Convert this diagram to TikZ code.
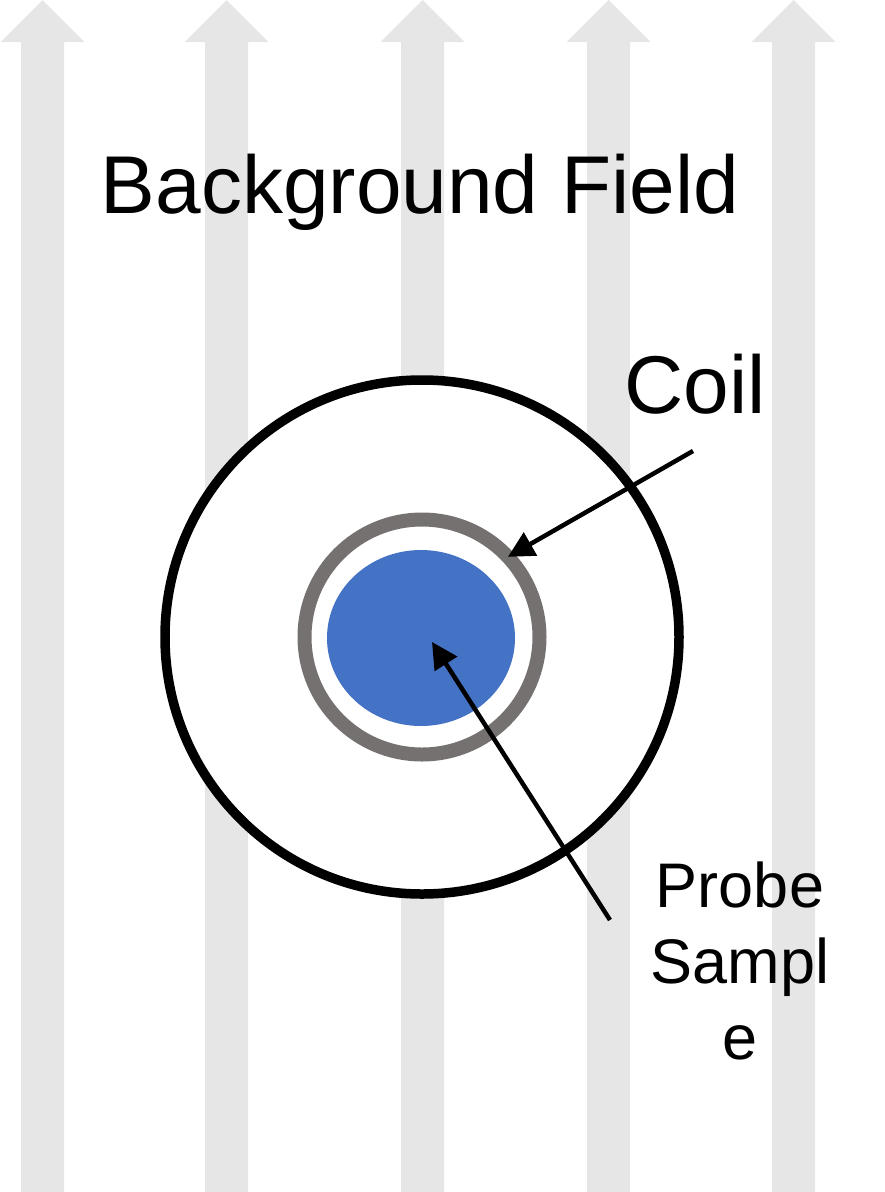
\documentclass[tikz,border=0pt]{standalone}
\usepackage{fontspec}
\setmainfont{Liberation Sans}
\usetikzlibrary{shapes.geometric,arrows.meta}
\definecolor{stripegray}{RGB}{230,230,230}
\definecolor{ringgray}{RGB}{118,113,113}
\definecolor{sampleblue}{RGB}{68,114,196}
\tikzset{
  fieldarrow/.style={fill=stripegray,draw=none},
  pointer/.style={line width=4.5pt,-{Triangle[length=26pt,width=26pt]}},
  bigtext/.style={font=\fontsize{82}{100}\selectfont,inner sep=0pt},
  smalltext/.style={font=\fontsize{63}{76}\selectfont,inner sep=0pt,align=center}
}
\begin{document}
\begin{tikzpicture}[x=1pt,y=-1pt]
\useasboundingbox (0,0) rectangle (884,1192);
\foreach \c in {42.5,226.5,422.5,608.5,793.5}{
  \fill[fieldarrow] (\c-21.5,1192) -- (\c-21.5,42) -- (\c-42,42) -- (\c,0)
     -- (\c+42,42) -- (\c+21.5,42) -- (\c+21.5,1192) -- cycle;
}
\node[bigtext,anchor=base] (title) at (420,213) {Background Field};
\node[circle,draw=black,fill=white,line width=9.5pt,minimum size=514pt,outer sep=0pt,inner sep=0pt] (outer) at (422,637) {};
\node[circle,draw=ringgray,line width=14pt,minimum size=235pt,outer sep=0pt,inner sep=0pt] (coil) at (422,637) {};
\node[ellipse,fill=sampleblue,minimum width=188pt,minimum height=176pt,inner sep=0pt] (sample) at (421,638) {};
\node[bigtext,anchor=base west] (coillabel) at (624,413) {Coil};
\node[smalltext,anchor=base] (probelabel) at (740,1059) {Probe\\Sampl\\e};
\coordinate (coilstart) at (693,451);
\coordinate (probestart) at (610,920);
\draw[pointer] (coilstart) -- (coil.43.6);
\draw[pointer] (probestart) -- ([shift={(11,4)}]sample.center);
\end{tikzpicture}
\end{document}
